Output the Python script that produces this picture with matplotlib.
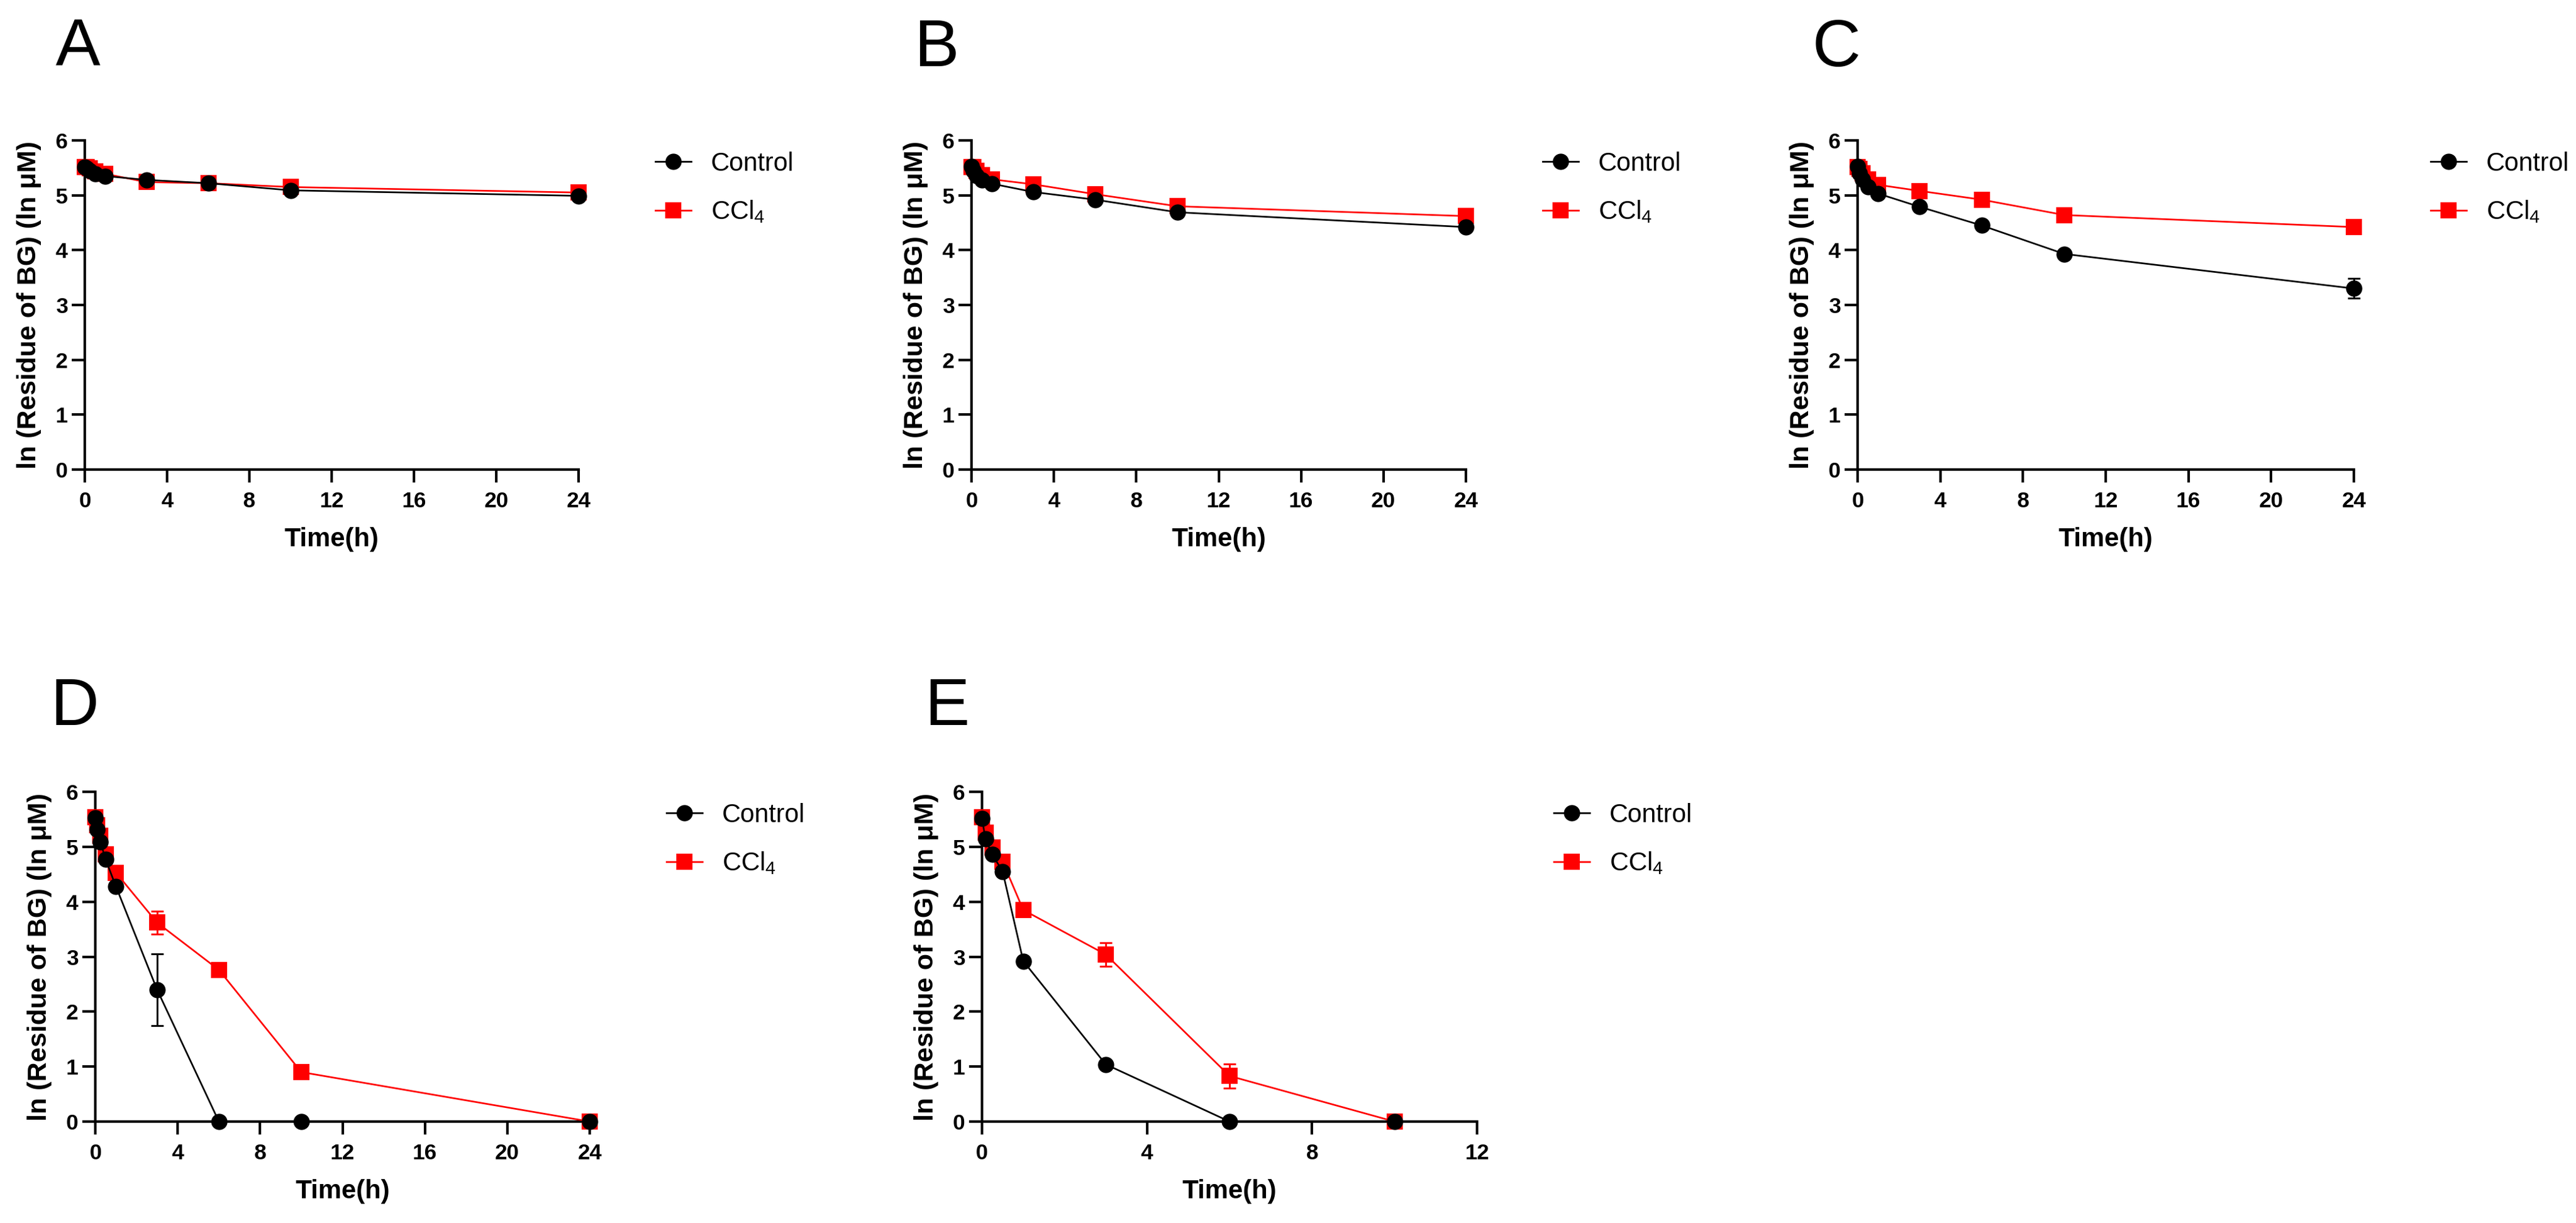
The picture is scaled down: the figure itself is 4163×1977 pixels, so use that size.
import matplotlib
matplotlib.use("Agg")
import matplotlib.pyplot as plt
from matplotlib.lines import Line2D

plt.rcParams['font.family'] = ['Liberation Sans', 'DejaVu Sans']
plt.rcParams['mathtext.fontset'] = 'custom'
plt.rcParams['mathtext.rm'] = 'Liberation Sans'
plt.rcParams['mathtext.default'] = 'regular'

# ---------------- data ----------------
t_full = [0, 0.083, 0.25, 0.5, 1, 3, 6, 10, 24]
t_E = [0, 0.083, 0.25, 0.5, 1, 3, 6, 10]

A_control = [5.52, 5.49, 5.45, 5.39, 5.35, 5.28, 5.22, 5.09, 4.99]
A_ccl4 = [5.52, 5.52, 5.49, 5.44, 5.39, 5.24, 5.22, 5.15, 5.05]
A_control_sd = [0.03, 0.03, 0.03, 0.03, 0.03, 0.04, 0.04, 0.04, 0.04]
A_ccl4_sd = [0.03, 0.03, 0.03, 0.03, 0.03, 0.04, 0.04, 0.04, 0.04]

B_control = [5.53, 5.45, 5.36, 5.28, 5.21, 5.06, 4.92, 4.69, 4.42]
B_ccl4 = [5.52, 5.51, 5.45, 5.37, 5.29, 5.20, 5.02, 4.80, 4.62]
B_control_sd = [0.03, 0.03, 0.03, 0.03, 0.04, 0.04, 0.05, 0.05, 0.05]
B_ccl4_sd = [0.03, 0.03, 0.03, 0.03, 0.04, 0.04, 0.04, 0.05, 0.05]

C_control = [5.53, 5.40, 5.29, 5.15, 5.03, 4.79, 4.45, 3.93, 3.30]
C_ccl4 = [5.52, 5.48, 5.40, 5.29, 5.19, 5.08, 4.92, 4.64, 4.42]
C_control_sd = [0.03, 0.03, 0.03, 0.04, 0.04, 0.05, 0.05, 0.06, 0.18]
C_ccl4_sd = [0.03, 0.03, 0.03, 0.03, 0.04, 0.04, 0.05, 0.05, 0.06]

D_control = [5.53, 5.31, 5.09, 4.77, 4.28, 2.40, 0, 0, 0]
D_ccl4 = [5.54, 5.39, 5.20, 4.86, 4.53, 3.62, 2.76, 0.90, 0]
D_control_sd = [0.03, 0.04, 0.04, 0.05, 0.06, 0.65, 0, 0, 0]
D_ccl4_sd = [0.03, 0.04, 0.04, 0.05, 0.06, 0.21, 0.06, 0.08, 0]

E_control = [5.52, 5.14, 4.86, 4.55, 2.92, 1.04, 0, 0]
E_ccl4 = [5.54, 5.26, 4.99, 4.73, 3.85, 3.04, 0.83, 0]
E_control_sd = [0.03, 0.04, 0.04, 0.05, 0.06, 0.06, 0, 0]
E_ccl4_sd = [0.03, 0.04, 0.04, 0.05, 0.06, 0.21, 0.22, 0]

panel_letters = ['A', 'B', 'C', 'D', 'E']
series_labels = ['Control', 'CCl$_4$']
y_ticks = [0, 1, 2, 3, 4, 5, 6]
x_ticks_24 = [0, 4, 8, 12, 16, 20, 24]
x_ticks_12 = [0, 4, 8, 12]
y_label = 'ln (Residue of BG) (ln μM)'
x_label = 'Time(h)'

# ---------------- layout ----------------
W, H = 4163, 1977
DPI = 300
fig = plt.figure(figsize=(W / DPI, H / DPI), dpi=DPI)

# (left, right, top, bottom) in pixels
boxes = [
    (137, 935, 227, 759),
    (1570, 2369, 227, 759),
    (3002, 3804, 227, 759),
    (154, 953, 1280, 1813),
    (1587, 2387, 1280, 1813),
]
letter_pos = [(90, 107), (1477, 107), (2928, 107), (81, 1172), (1494, 1172)]

panels = [
    (t_full, A_control, A_control_sd, A_ccl4, A_ccl4_sd, x_ticks_24),
    (t_full, B_control, B_control_sd, B_ccl4, B_ccl4_sd, x_ticks_24),
    (t_full, C_control, C_control_sd, C_ccl4, C_ccl4_sd, x_ticks_24),
    (t_full, D_control, D_control_sd, D_ccl4, D_ccl4_sd, x_ticks_24),
    (t_E, E_control, E_control_sd, E_ccl4, E_ccl4_sd, x_ticks_12),
]

RED = '#FF0000'
MS = 5.3
LW = 0.65

for i, (box, (t, ctl, ctl_sd, ccl, ccl_sd, xt)) in enumerate(zip(boxes, panels)):
    l, r, tp, b = box
    aw, ah = r - l, b - tp
    ax = fig.add_axes([l / W, 1 - b / H, aw / W, ah / H])
    ax.errorbar(t, ccl, yerr=ccl_sd, color=RED, marker='s', ms=MS, lw=LW,
                elinewidth=0.7, capsize=2.4, capthick=0.7, clip_on=False, zorder=3)
    ax.errorbar(t, ctl, yerr=ctl_sd, color='black', marker='o', ms=MS, lw=LW,
                elinewidth=0.7, capsize=2.4, capthick=0.7, clip_on=False, zorder=4)
    ax.set_xlim(xt[0], xt[-1])
    ax.set_ylim(0, 6)
    ax.set_xticks(xt)
    ax.set_yticks(y_ticks)
    for s in ['top', 'right']:
        ax.spines[s].set_visible(False)
    for s in ['left', 'bottom']:
        ax.spines[s].set_linewidth(1.0)
    ax.tick_params(axis='both', direction='out', length=5, width=1.0,
                   labelsize=8.5)
    ax.tick_params(axis='x', pad=3.4)
    ax.tick_params(axis='y', pad=1.6)
    for lab in ax.get_xticklabels() + ax.get_yticklabels():
        lab.set_fontweight('bold')
    ax.set_ylabel(y_label, fontsize=10.4, fontweight='bold')
    ax.yaxis.set_label_coords(-70 / aw, 0.5)
    ax.set_xlabel(x_label, fontsize=10.2, fontweight='bold', va='top')
    ax.xaxis.set_label_coords(0.5, -93 / ah)

    handles = [
        Line2D([], [], color='black', marker='o', ms=MS, lw=LW),
        Line2D([], [], color=RED, marker='s', ms=MS, lw=LW),
    ]
    ax.legend(handles, series_labels, loc='upper left',
              bbox_to_anchor=((r + 124) / W, 1 - (tp + 18) / H),
              bbox_transform=fig.transFigure, frameon=False, fontsize=10,
              handlelength=1.39, handletextpad=0.77, labelspacing=0.87,
              borderpad=0, borderaxespad=0)

    lx, ly = letter_pos[i]
    fig.text(lx / W, 1 - ly / H, panel_letters[i], fontsize=26,
             ha='left', va='baseline')

fig.savefig('out.png', dpi=DPI)
